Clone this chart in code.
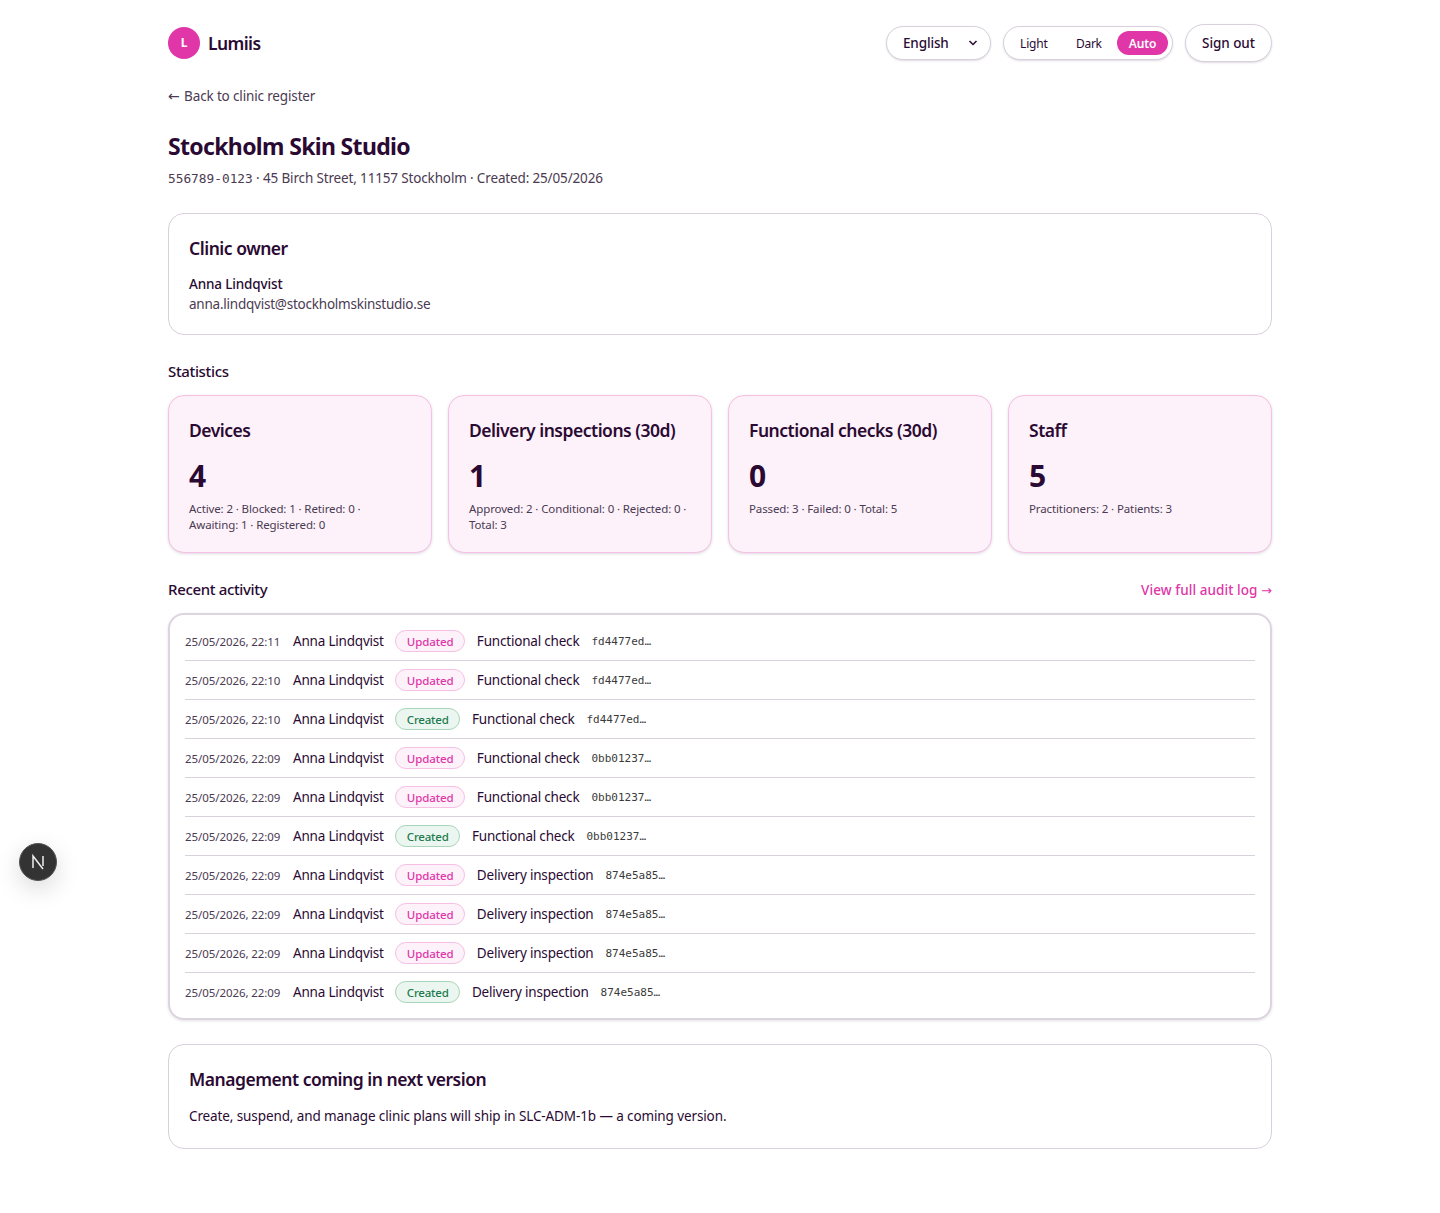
<!DOCTYPE html>
<html lang="en">
<head>
<meta charset="utf-8">
<title>Stockholm Skin Studio</title>
<script src="https://cdn.jsdelivr.net/npm/chart.js@4"></script>
<style>
  * { box-sizing: border-box; }
  html, body { margin: 0; background: #fff; }
  body { position: relative; width: 1440px; height: 1213px; overflow: hidden; color: #2a0a33;
         font-family: "Noto Sans", sans-serif; font-size: 13.5px; letter-spacing: -0.15px; }
  .abs { position: absolute; white-space: nowrap; line-height: 20px; }
  .card { position: absolute; background: #fff; border: 1px solid #d8d0dc; border-radius: 16px; }
  .h3 { font-size: 17.5px; font-weight: 600; letter-spacing: -0.48px; line-height: 24px; }
  .section { font-size: 15px; font-weight: 500; letter-spacing: -0.35px; }
  .pill { position: absolute; background: #fff; border: 1px solid #d8d0dc; border-radius: 20px; box-shadow: 0 1px 2px rgba(42,10,51,.15); }
  .stat { background: #fdf2fa; border-color: #f6bfe3; box-shadow: 0 1px 3px rgba(42,10,51,.15); width: 264px; height: 158px; top: 395px; }
  .stat .h3 { position: absolute; left: 20px; top: 22px; }
  .stat .num { position: absolute; left: 20px; top: 60px; font-size: 30px; font-weight: 700; line-height: 40px; }
  .stat .meta { position: absolute; left: 20px; top: 105px; width: 232px; font-size: 11.5px; line-height: 16px; color: #4a3a52; letter-spacing: -0.12px; white-space: pre-line; }
  .row { position: absolute; left: 15px; right: 15px; height: 39px; border-bottom: 1px solid #d8d0dc; display: flex; align-items: center; white-space: nowrap; letter-spacing: -0.2px; }
  .row:last-child { border-bottom-color: transparent; }
  .time { width: 96px; font-size: 11.5px; color: #4a3a52; margin-right: 12px; letter-spacing: -0.08px; }
  .actor { margin-right: 11px; width: 91px; }
  .badge { font-size: 11.5px; font-weight: 500; height: 22px; line-height: 21px; padding: 0 10.8px; border-radius: 11px; border: 1px solid; margin-right: 11.5px; letter-spacing: -0.1px; }
  .Updated { color: #e036a8; background: #fdf2fa; border-color: #f6bfe3; }
  .Created { color: #1c7a4e; background: #ecf6f0; border-color: #a9d5bb; letter-spacing: -0.2px; }
  .target { margin-right: 12px; }
  .id { font-family: "DejaVu Sans Mono", monospace; font-size: 11px; color: #3a3a3a; letter-spacing: 0; }
  .mono { font-family: "DejaVu Sans Mono", monospace; font-size: 12.8px; letter-spacing: 0; }
  .arrow { font-family: "DejaVu Sans", sans-serif; font-size: 14px; letter-spacing: 0; }
</style>
</head>
<body>
<div class="abs" style="left:168px;top:27px;width:32px;height:32px;border-radius:50%;background:#e036a8;color:#fff;font-size:12px;font-weight:700;line-height:32px;text-align:center">L</div>
<div class="abs" style="left:208px;top:33px;font-size:17.5px;font-weight:600;letter-spacing:-.6px">Lumiis</div>

<div class="pill" style="left:886px;top:26px;width:105px;height:34px"></div>
<div class="abs" style="left:903px;top:33px;font-weight:500">English</div>
<svg class="abs" style="left:968px;top:39px" width="10" height="8" viewBox="0 0 10 8"><path d="M1.5 2 L5 5.5 L8.5 2" fill="none" stroke="#2a0a33" stroke-width="1.5"/></svg>

<div class="pill" style="left:1003px;top:26px;width:170px;height:34px"></div>
<div class="abs" style="left:1020px;top:34px;font-size:12px">Light</div>
<div class="abs" style="left:1076px;top:34px;font-size:12px;letter-spacing:-.3px">Dark</div>
<div class="abs" style="left:1117px;top:31px;width:51px;height:24px;border-radius:12px;background:#e036a8;color:#fff;font-size:12px;font-weight:600;line-height:26px;text-align:center">Auto</div>

<div class="pill" style="left:1185px;top:24px;width:87px;height:38px;border-radius:19px"></div>
<div class="abs" style="left:1202px;top:33px;font-weight:500;letter-spacing:-.05px">Sign out</div>

<div class="abs" style="left:168px;top:86px;color:#4a3a52"><span class="arrow" style="margin-right:1px">←</span> Back to clinic register</div>
<div class="abs" style="left:168px;top:132px;font-size:23px;font-weight:700;letter-spacing:-.66px;line-height:28px">Stockholm Skin Studio</div>
<div class="abs" style="left:168px;top:168px;color:#4a3a52"><span class="mono">556789-0123</span> · 45 Birch Street, 11157 Stockholm · Created: 25/05/2026</div>

<div class="card" style="left:168px;top:213px;width:1104px;height:122px"></div>
<div class="abs h3" style="left:189px;top:236px">Clinic owner</div>
<div class="abs" style="left:189px;top:274px;font-weight:500">Anna Lindqvist</div>
<div class="abs" style="left:189px;top:294px;color:#4a3a52;letter-spacing:-.23px">anna.lindqvist@stockholmskinstudio.se</div>

<div class="abs section" style="left:168px;top:361px">Statistics</div>
<div id="stats"></div>

<div class="abs section" style="left:168px;top:579px">Recent activity</div>
<div class="abs" style="right:168px;top:580px;color:#e036a8;font-weight:500;letter-spacing:.07px">View full audit log <span class="arrow" style="font-size:13px">→</span></div>

<div class="card" id="activity" style="left:168px;top:612.5px;width:1104px;height:407.5px;border:2px solid #dcd5e0;box-shadow:0 1px 3px rgba(42,10,51,.12)"></div>

<div class="card" style="left:168px;top:1044px;width:1104px;height:105px"></div>
<div class="abs h3" style="left:189px;top:1067px">Management coming in next version</div>
<div class="abs" style="left:189px;top:1106px;letter-spacing:-.11px">Create, suspend, and manage clinic plans will ship in SLC-ADM-1b — a coming version.</div>

<div class="abs" style="left:19px;top:843px;width:38px;height:38px;border-radius:50%;background:#333;border:1px solid #555;box-shadow:0 8px 24px rgba(0,0,0,.15)">
  <svg width="36" height="36" viewBox="0 0 36 36" style="display:block"><path d="M13 24 V12 L23 25 M23 12 V22" fill="none" stroke="#eee" stroke-width="1.5"/></svg>
</div>

<script>
// Stat cards
const statTitles = ['Devices', 'Delivery inspections (30d)', 'Functional checks (30d)', 'Staff'];
const statValues = [4, 1, 0, 5];
const statNotes = [
    'Active: 2 · Blocked: 1 · Retired: 0 ·\nAwaiting: 1 · Registered: 0',
    'Approved: 2 · Conditional: 0 · Rejected: 0 ·\nTotal: 3',
    'Passed: 3 · Failed: 0 · Total: 5',
    'Practitioners: 2 · Patients: 3'
];

// Recent activity rows
const activityTimes = ['22:11', '22:10', '22:10', '22:09', '22:09', '22:09', '22:09', '22:09', '22:09', '22:09'];
const activityActions = ['Updated', 'Updated', 'Created', 'Updated', 'Updated', 'Created', 'Updated', 'Updated', 'Updated', 'Created'];
const activityTargets = ['Functional check', 'Functional check', 'Functional check', 'Functional check', 'Functional check', 'Functional check', 'Delivery inspection', 'Delivery inspection', 'Delivery inspection', 'Delivery inspection'];
const activityIds = ['fd4477ed…', 'fd4477ed…', 'fd4477ed…', '0bb01237…', '0bb01237…', '0bb01237…', '874e5a85…', '874e5a85…', '874e5a85…', '874e5a85…'];

const stats = document.getElementById('stats');
statTitles.forEach((title, i) => {
    const card = document.createElement('div');
    card.className = 'card stat';
    card.style.left = (168 + i * 280) + 'px';
    card.innerHTML = `<div class="h3">${title}</div><div class="num">${statValues[i]}</div><div class="meta">${statNotes[i]}</div>`;
    stats.appendChild(card);
});

const activity = document.getElementById('activity');
activityTimes.forEach((time, i) => {
    const row = document.createElement('div');
    row.className = 'row';
    row.style.top = (7.5 + i * 39) + 'px';
    row.innerHTML = `<span class="time">25/05/2026, ${time}</span><span class="actor">Anna Lindqvist</span>` +
        `<span class="badge ${activityActions[i]}">${activityActions[i]}</span>` +
        `<span class="target">${activityTargets[i]}</span><span class="id">${activityIds[i]}</span>`;
    activity.appendChild(row);
});
</script>
</body>
</html>
